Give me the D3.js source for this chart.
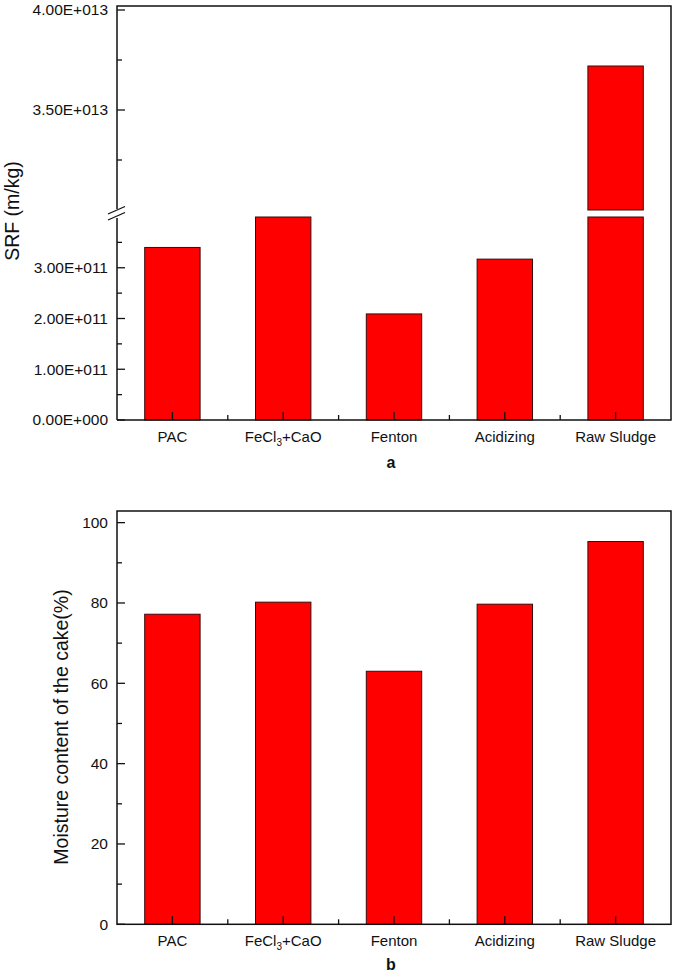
<!DOCTYPE html>
<html><head><meta charset="utf-8">
<script src="https://cdn.jsdelivr.net/npm/d3@7"></script>
<style>body{margin:0;background:#fff}svg{display:block}text{font-family:"Liberation Sans",Arial,sans-serif;fill:#111}</style>
</head><body>
<script>
const categories = ["PAC", "FeCl3+CaO", "Fenton", "Acidizing", "Raw Sludge"];
const srfValues = [3.40e11, 4.0e11, 2.09e11, 3.17e11, 3.72e13];
const moistureValues = [77.2, 80.2, 63.0, 79.7, 95.3];
const srfLowerTicks = [0, 1e11, 2e11, 3e11];
const srfLowerTickLabels = ["0.00E+000", "1.00E+011", "2.00E+011", "3.00E+011"];
const srfLowerMinor = [0.5e11, 1.5e11, 2.5e11, 3.5e11];
const srfUpperTicks = [3.5e13, 4.0e13];
const srfUpperTickLabels = ["3.50E+013", "4.00E+013"];
const srfUpperMinor = [3.25e13, 3.75e13];
const moistTicks = [0, 20, 40, 60, 80, 100];
const moistMinor = [10, 30, 50, 70, 90];

const W = 675, H = 977;
const svg = d3.select("body").append("svg").attr("width", W).attr("height", H);
const L = 117, R = 671;
const x = d3.scaleBand().domain(categories).range([L, R]).paddingInner(0.5).paddingOuter(0.25);

const fill = "#ff0000", outline = "#3a0a0a";
const fs = 15.5;

function xAxis(y0, label, labelY) {
  categories.forEach((c, i) => {
    const cx = x(c) + x.bandwidth() / 2;
    svg.append("line").attr("x1", cx).attr("x2", cx).attr("y1", y0).attr("y2", y0 - 8).attr("stroke", "#111").attr("stroke-width", 1.3);
    if (i < categories.length - 1) {
      const bx = cx + x.step() / 2;
      svg.append("line").attr("x1", bx).attr("x2", bx).attr("y1", y0).attr("y2", y0 - 5).attr("stroke", "#111").attr("stroke-width", 1.3);
    }
    const t = svg.append("text").attr("x", cx).attr("y", y0 + 22).attr("text-anchor", "middle").attr("font-size", 15);
    if (c === "FeCl3+CaO") {
      t.append("tspan").text("FeCl");
      t.append("tspan").attr("font-size", 10).attr("dy", 4).text("3");
      t.append("tspan").attr("dy", -4).text("+CaO");
    } else t.text(c);
  });
  svg.append("text").attr("x", (L + R) / 2 - 3).attr("y", labelY).attr("text-anchor", "middle")
    .attr("font-size", 16).attr("font-weight", "bold").text(label);
}

function yTicks(scale, ticks, labels, minor) {
  ticks.forEach((v, i) => {
    const y = scale(v);
    svg.append("line").attr("x1", L).attr("x2", L + 8).attr("y1", y).attr("y2", y).attr("stroke", "#111").attr("stroke-width", 1.3);
    svg.append("text").attr("x", 108).attr("y", y).attr("dy", "0.35em").attr("text-anchor", "end").attr("font-size", fs).text(labels[i]);
  });
  minor.forEach(v => {
    const y = scale(v);
    svg.append("line").attr("x1", L).attr("x2", L + 5).attr("y1", y).attr("y2", y).attr("stroke", "#111").attr("stroke-width", 1.3);
  });
}

// ---------- Chart a ----------
const topA = 6, botA = 420;
const yLow = d3.scaleLinear().domain([0, 4.0e11]).range([botA, 217]);
const yUp = d3.scaleLinear().domain([3.0e13, 4.02e13]).range([210, topA]);

categories.forEach((c, i) => {
  const v = srfValues[i];
  const lowTop = yLow(Math.min(v, 4.0e11));
  svg.append("rect").attr("x", x(c)).attr("width", x.bandwidth()).attr("y", lowTop).attr("height", botA - lowTop)
    .attr("fill", fill).attr("stroke", outline).attr("stroke-width", 1);
  if (v > 3.0e13) {
    const upTop = yUp(v);
    svg.append("rect").attr("x", x(c)).attr("width", x.bandwidth()).attr("y", upTop).attr("height", yUp(3.0e13) - upTop)
      .attr("fill", fill).attr("stroke", outline).attr("stroke-width", 1);
  }
});
svg.append("path").attr("d", `M${L},${botA}V218M${L},209V${topA}H${R}V${botA}H${L}`).attr("fill", "none").attr("stroke", "#111").attr("stroke-width", 1.5);
svg.append("path").attr("d", `M${L - 9},214L${L + 8},206.5M${L - 9},220L${L + 8},212.5`).attr("fill", "none").attr("stroke", "#111").attr("stroke-width", 1.3);
yTicks(yLow, srfLowerTicks, srfLowerTickLabels, srfLowerMinor);
yTicks(yUp, srfUpperTicks, srfUpperTickLabels, srfUpperMinor);
xAxis(botA, "a", 468);
svg.append("text").attr("transform", `translate(12,211) rotate(-90)`).attr("dy", "0.35em")
  .attr("text-anchor", "middle").attr("font-size", 19.5).text("SRF (m/kg)");

// ---------- Chart b ----------
const topB = 511, botB = 924.3;
const yB = d3.scaleLinear().domain([0, 102.9]).range([botB, topB]);
categories.forEach((c, i) => {
  svg.append("rect").attr("x", x(c)).attr("width", x.bandwidth()).attr("y", yB(moistureValues[i])).attr("height", botB - yB(moistureValues[i]))
    .attr("fill", fill).attr("stroke", outline).attr("stroke-width", 1);
});
svg.append("rect").attr("x", L).attr("y", topB).attr("width", R - L).attr("height", botB - topB).attr("fill", "none").attr("stroke", "#111").attr("stroke-width", 1.5);
yTicks(yB, moistTicks, moistTicks.map(String), moistMinor);
xAxis(botB, "b", 970);
svg.append("text").attr("transform", `translate(61,727) rotate(-90)`).attr("dy", "0.35em")
  .attr("text-anchor", "middle").attr("font-size", 19.5).text("Moisture content of the cake(%)");
</script>
</body></html>
